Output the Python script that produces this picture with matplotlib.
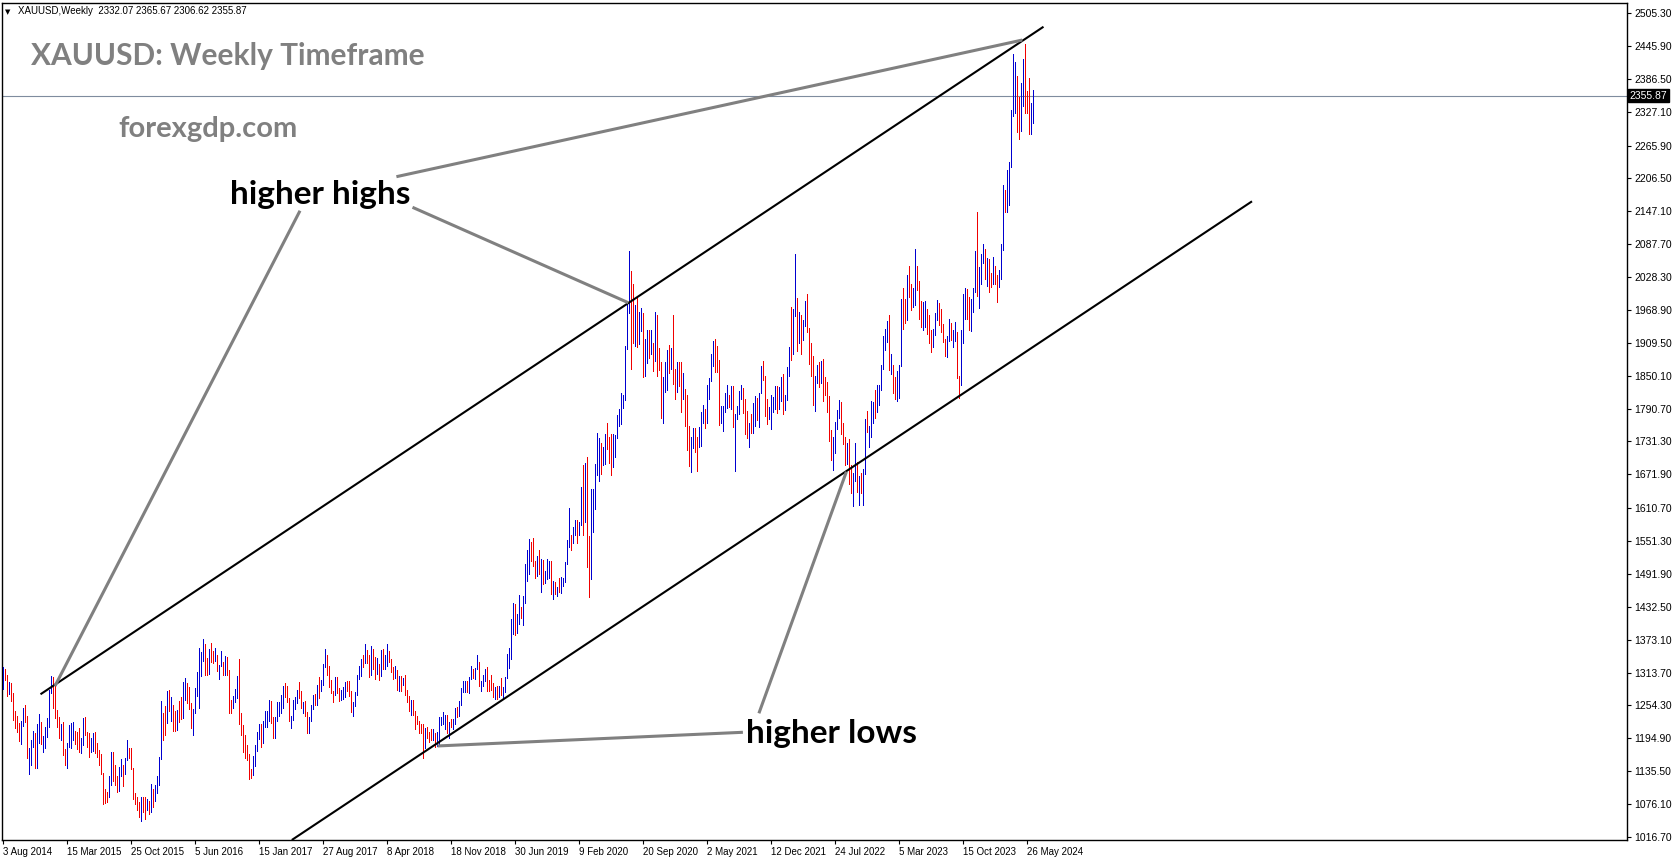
import matplotlib
matplotlib.use("Agg")
import matplotlib.pyplot as plt
import numpy as np

# ---------------- data (weekly XAUUSD, week 0 = 3 Aug 2014) ----------------
first_open = 1294
closes = [
    # 2014
    1309,1305,1280,1287,1268,1231,1216,1214,1192,1222,1238,1231,1171,1177,1188,1197,1175,1191,1222,1195,1195,1212,
    # 2015
    1217,1277,1293,1279,1234,1228,1204,1213,1166,1153,1182,1200,1201,1207,1204,1178,1176,1189,1225,1205,1190,1170,1181,1201,1173,1168,
    1162,1131,1097,1095,1094,1113,1160,1134,1121,1104,1138,1146,1137,1156,1177,1163,1142,1088,1081,1076,1057,1085,1075,1065,1076,1061,
    # 2016
    1104,1090,1096,1117,1158,1239,1230,1222,1259,1250,1255,1221,1220,1240,1234,1232,1290,1290,1273,1252,1214,1242,1275,1298,1321,1340,
    1366,1327,1322,1351,1336,1335,1341,1321,1326,1328,1310,1337,1316,1257,1252,1267,1276,1304,1225,1208,1178,1177,1161,1134,1132,1151,
    # 2017
    1173,1197,1205,1190,1220,1234,1238,1257,1226,1201,1229,1243,1249,1254,1287,1284,1268,1228,1228,1254,1267,1280,1271,1254,1256,1242,
    1212,1228,1254,1269,1257,1289,1285,1292,1324,1346,1319,1297,1280,1275,1304,1280,1266,1269,1275,1294,1288,1280,1248,1256,1275,1303,
    # 2018
    1320,1338,1332,1350,1333,1315,1347,1330,1322,1323,1313,1347,1323,1332,1345,1336,1323,1314,1318,1292,1301,1294,1298,1278,1269,1252,
    1255,1241,1231,1223,1214,1212,1184,1206,1201,1196,1193,1199,1191,1203,1219,1227,1233,1233,1209,1223,1222,1222,1248,1238,1257,1281,
    # 2019
    1286,1289,1282,1304,1318,1316,1322,1328,1294,1298,1302,1313,1292,1291,1290,1276,1286,1280,1285,1277,1284,1305,1341,1341,1400,1409,
    1400,1416,1426,1419,1440,1497,1513,1527,1520,1507,1488,1517,1497,1504,1488,1490,1504,1509,1458,1468,1462,1464,1460,1476,1478,1510,
    # 2020
    1552,1562,1557,1571,1589,1570,1584,1643,1585,1674,1530,1498,1618,1620,1683,1683,1727,1700,1703,1742,1734,1730,1685,1730,1743,1771,
    1775,1799,1810,1902,1975,2035,1945,1940,1964,1934,1940,1950,1861,1900,1930,1899,1902,1879,1951,1889,1871,1788,1839,1839,1881,1877,1898,
    # 2021
    1850,1828,1855,1847,1813,1823,1783,1733,1700,1719,1745,1732,1728,1744,1777,1777,1768,1831,1844,1881,1905,1892,1877,1764,1781,1787,
    1808,1815,1802,1814,1763,1780,1781,1818,1827,1787,1754,1750,1761,1757,1767,1792,1783,1818,1864,1845,1788,1783,1783,1798,1809,1829,
    # 2022
    1797,1818,1836,1792,1808,1860,1899,1890,1966,1989,1921,1958,1925,1946,1975,1932,1897,1883,1811,1846,1853,1850,1870,1840,1827,1812,
    1742,1707,1727,1765,1775,1802,1747,1738,1712,1716,1675,1644,1660,1695,1644,1657,1644,1681,1769,1751,1755,1797,1797,1793,1798,1824,
    # 2023
    1865,1920,1926,1928,1865,1865,1842,1811,1856,1868,1989,1978,1969,2007,2003,1983,1990,2017,2011,1978,1946,1948,1961,1958,1921,1919,
    1925,1955,1961,1959,1943,1914,1889,1915,1940,1919,1924,1925,1848,1833,1932,1981,2006,1993,1940,1981,2002,2072,2004,2019,2053,2062,
    # 2024
    2045,2049,2029,2018,2039,2024,2013,2035,2083,2179,2156,2166,2229,2329,2344,2392,2337,2301,2360,2414,2334,2326,2293,2332.07,2355.87,
]
highs = [
    1324,1320,1310,1296,1295,1276,1244,1236,1222,1227,1250,1255,1235,1177,1191,1208,1204,1221,1238,1225,1199,1215,
    1232,1282,1307,1305,1290,1246,1233,1220,1224,1176,1187,1219,1223,1224,1209,1206,1214,1195,1232,1234,1207,1205,1196,1205,1206,1187,
    1174,1166,1132,1104,1098,1126,1170,1170,1147,1126,1143,1157,1145,1160,1191,1177,1178,1142,1096,1088,1080,1088,1088,1089,1086,1082,
    1113,1098,1111,1127,1161,1263,1240,1253,1280,1283,1269,1253,1244,1246,1262,1270,1297,1304,1294,1287,1258,1247,1285,1315,1358,1350,
    1375,1360,1340,1357,1367,1353,1358,1346,1327,1352,1333,1344,1342,1318,1264,1272,1284,1308,1338,1240,1219,1200,1182,1166,1140,1163,
    1183,1207,1220,1220,1226,1245,1245,1264,1263,1233,1234,1261,1261,1273,1289,1295,1289,1266,1236,1264,1269,1282,1296,1280,1260,1263,
    1243,1233,1256,1273,1275,1292,1306,1300,1330,1357,1337,1325,1301,1281,1306,1306,1286,1283,1288,1296,1298,1299,1280,1260,1279,1309,
    1326,1338,1345,1366,1355,1346,1362,1356,1341,1340,1329,1354,1356,1346,1365,1353,1338,1320,1325,1318,1307,1307,1303,1310,1282,1272,
    1265,1265,1245,1236,1227,1220,1220,1214,1215,1207,1212,1211,1204,1207,1233,1233,1243,1237,1237,1225,1230,1230,1250,1252,1262,1285,
    1298,1298,1299,1305,1326,1320,1322,1346,1332,1299,1310,1320,1324,1300,1310,1295,1288,1289,1290,1303,1287,1306,1348,1358,1411,1439,
    1437,1419,1453,1433,1452,1510,1535,1555,1550,1557,1515,1525,1535,1519,1517,1498,1518,1516,1515,1479,1478,1469,1484,1487,1485,1514,
    1553,1611,1563,1576,1589,1590,1585,1649,1689,1692,1703,1560,1645,1645,1690,1747,1738,1729,1722,1745,1765,1740,1745,1745,1740,1779,
    1789,1818,1815,1904,1984,2075,2040,2015,1977,1992,1966,1973,1963,1917,1933,1933,1932,1910,1965,1959,1900,1875,1848,1875,1897,1906,1900,
    1960,1863,1875,1875,1875,1855,1826,1816,1760,1740,1755,1755,1740,1758,1785,1797,1790,1834,1845,1890,1913,1916,1903,1878,1795,1795,
    1818,1834,1815,1832,1832,1780,1795,1823,1834,1809,1808,1787,1765,1781,1801,1814,1810,1818,1868,1877,1850,1808,1793,1815,1812,1831,
    1831,1830,1848,1853,1815,1865,1902,1975,1970,2070,1990,1966,1960,1950,1985,1998,1936,1910,1885,1850,1870,1874,1877,1880,1848,1839,
    1814,1752,1739,1767,1788,1807,1802,1765,1740,1729,1735,1688,1675,1729,1686,1669,1675,1682,1772,1786,1760,1804,1802,1824,1833,1833,
    1870,1922,1935,1949,1960,1890,1870,1847,1858,1870,1989,2009,1988,2032,2048,2015,2009,2079,2048,2022,1985,1983,1985,1971,1959,1933,
    1935,1963,1987,1982,1970,1932,1917,1922,1953,1945,1932,1947,1929,1850,1932,1997,2009,2004,1974,1988,2008,2076,2146,2047,2070,2088,
    2079,2062,2061,2036,2065,2048,2032,2041,2088,2195,2185,2222,2236,2330,2431,2417,2392,2354,2378,2422,2450,2364,2387,2342,2365.67,
]
lows = [
    1284,1301,1272,1275,1262,1228,1214,1206,1190,1184,1217,1224,1160,1131,1146,1180,1142,1142,1186,1185,1170,1178,
    1198,1216,1276,1250,1232,1216,1196,1192,1164,1147,1142,1180,1178,1192,1184,1175,1170,1168,1182,1200,1180,1162,1170,1172,1168,1162,
    1146,1130,1077,1078,1080,1088,1111,1118,1111,1098,1100,1126,1108,1131,1155,1160,1140,1085,1077,1065,1052,1046,1061,1049,1068,1058,
    1061,1071,1081,1096,1111,1157,1191,1201,1225,1245,1227,1208,1208,1210,1224,1230,1233,1265,1259,1248,1216,1200,1240,1271,1250,1307,
    1335,1310,1310,1312,1333,1331,1334,1316,1302,1326,1309,1310,1310,1241,1241,1250,1260,1268,1220,1200,1171,1159,1156,1122,1124,1128,
    1145,1172,1194,1180,1187,1216,1216,1226,1223,1195,1196,1226,1235,1240,1250,1270,1260,1226,1214,1228,1247,1258,1268,1250,1241,1236,
    1205,1204,1227,1247,1256,1256,1267,1281,1291,1323,1310,1288,1277,1260,1274,1276,1263,1264,1266,1269,1280,1271,1243,1236,1253,1273,
    1302,1307,1323,1331,1331,1306,1310,1320,1302,1311,1301,1307,1321,1321,1325,1332,1315,1302,1303,1282,1281,1281,1291,1273,1261,1245,
    1237,1237,1211,1221,1204,1205,1160,1178,1196,1189,1191,1192,1180,1181,1183,1219,1220,1211,1205,1196,1215,1212,1221,1234,1236,1256,
    1278,1279,1279,1276,1302,1303,1302,1320,1290,1281,1289,1298,1280,1281,1282,1270,1266,1266,1269,1274,1266,1279,1304,1322,1338,1384,
    1381,1385,1402,1412,1400,1440,1480,1492,1515,1506,1484,1488,1491,1459,1474,1476,1483,1485,1456,1446,1455,1452,1459,1458,1471,1477,
    1510,1540,1535,1547,1563,1547,1563,1580,1563,1585,1504,1451,1482,1568,1610,1670,1660,1673,1688,1691,1718,1693,1670,1690,1704,1737,
    1760,1763,1792,1807,1898,1963,1863,1910,1903,1902,1907,1930,1848,1850,1873,1882,1890,1859,1876,1850,1860,1774,1764,1820,1824,1855,1863,
    1835,1808,1820,1831,1785,1808,1760,1716,1687,1676,1719,1712,1678,1721,1723,1764,1756,1765,1808,1841,1868,1856,1856,1761,1770,1750,
    1785,1791,1794,1790,1758,1677,1771,1780,1808,1782,1745,1737,1721,1746,1746,1760,1770,1758,1818,1842,1778,1762,1772,1753,1785,1789,
    1782,1790,1804,1780,1788,1807,1849,1878,1889,1958,1895,1910,1890,1915,1940,1929,1872,1850,1798,1787,1837,1829,1837,1805,1816,1784,
    1732,1697,1680,1711,1754,1773,1745,1727,1688,1691,1654,1639,1614,1660,1640,1617,1638,1616,1673,1748,1721,1739,1765,1774,1784,1798,
    1824,1862,1896,1911,1861,1853,1819,1808,1804,1809,1867,1934,1945,1950,1992,1969,1975,1977,2005,1952,1938,1932,1938,1925,1910,1893,
    1902,1923,1951,1942,1929,1911,1885,1884,1913,1915,1901,1913,1846,1810,1834,1909,1953,1953,1932,1931,1965,2002,1994,1973,2016,2054,
    2024,2013,2001,2010,2016,2015,1984,2010,2024,2078,2146,2146,2159,2228,2319,2324,2291,2277,2292,2338,2325,2324,2286,2286,2306.62,
]

date_tick_weeks = [0, 32, 64, 96, 128, 160, 192, 224, 256, 288, 320, 352, 384, 416, 448, 480, 512]
date_tick_labels = ["3 Aug 2014", "15 Mar 2015", "25 Oct 2015", "5 Jun 2016", "15 Jan 2017",
                    "27 Aug 2017", "8 Apr 2018", "18 Nov 2018", "30 Jun 2019", "9 Feb 2020",
                    "20 Sep 2020", "2 May 2021", "12 Dec 2021", "24 Jul 2022", "5 Mar 2023",
                    "15 Oct 2023", "26 May 2024"]
price_ticks = [2505.30, 2445.90, 2386.50, 2327.10, 2265.90, 2206.50, 2147.10, 2087.70, 2028.30,
               1968.90, 1909.50, 1850.10, 1790.70, 1731.30, 1671.90, 1610.70, 1551.30, 1491.90,
               1432.50, 1373.10, 1313.70, 1254.30, 1194.90, 1135.50, 1076.10, 1016.70]
last_price = 2355.87
header_text = "XAUUSD,Weekly  2332.07 2365.67 2306.62 2355.87"

# trend lines (week index, price)
upper_channel = [(18.75, 1274.5), (520.25, 2480.5)]
lower_channel = [(144.4, 1011.2), (624.5, 2165.1)]
pointer_lines = [
    [(196.7, 2209.6), (509.65, 2456.5)],
    [(204.75, 2154.3), (312.65, 1981.9)],
    [(148.5, 2148.1), (26.0, 1289.5)],
    [(369.95, 1205.8), (217.25, 1181.1)],
    [(377.95, 1240.1), (421.7, 1676.6)],
]

# ---------------- figure ----------------
W, H = 1673, 861
fig = plt.figure(figsize=(W / 100, H / 100), dpi=100)
fig.patch.set_facecolor("white")
ax = fig.add_axes([2 / W, 21 / H, 1625 / W, 837 / H])
ax.set_xlim(-0.5, 812)
ax.set_ylim(1011.2, 2523.4)

weeks = np.arange(len(closes))
opens = np.array([first_open] + closes[:-1], dtype=float)
c = np.array(closes, dtype=float)
hi = np.maximum(np.array(highs, dtype=float), np.maximum(opens, c))
lo = np.minimum(np.array(lows, dtype=float), np.minimum(opens, c))
cols = np.where(c >= opens, "#0000D0", "#F00000")
ax.vlines(weeks, lo, hi, colors=cols, linewidth=0.5, antialiased=False, zorder=3)

# current price line
ax.axhline(last_price, color="#7F8C9E", linewidth=0.8, zorder=1)

# channel lines
for seg in (upper_channel, lower_channel):
    (x0, y0), (x1, y1) = seg
    ax.plot([x0, x1], [y0, y1], color="black", linewidth=1.5, solid_capstyle="butt", zorder=4)
for seg in pointer_lines:
    (x0, y0), (x1, y1) = seg
    ax.plot([x0, x1], [y0, y1], color="#808080", linewidth=2.2, solid_capstyle="butt", zorder=5)

# axes styling
for sp in ax.spines.values():
    sp.set_color("black")
    sp.set_linewidth(1.0)
ax.yaxis.tick_right()
ax.set_yticks(price_ticks)
ax.set_yticklabels([f"{p:.2f}" for p in price_ticks], fontsize=7.5, family="Liberation Sans")
ax.tick_params(axis="y", direction="out", length=3, width=0.8, pad=2, colors="black")
ax.set_xticks(date_tick_weeks)
ax.set_xticklabels(date_tick_labels, fontsize=7, family="Liberation Sans", ha="left")
ax.tick_params(axis="x", direction="out", length=3, width=0.8, pad=2, colors="black")

# price tag on the right axis
ax.text(1.0015, last_price, f"{last_price:.2f}", transform=ax.get_yaxis_transform(),
        ha="left", va="center", fontsize=7.5, family="Liberation Sans", color="white",
        bbox=dict(boxstyle="square,pad=0.15", fc="black", ec="black"), zorder=10, clip_on=False)

def ftext(x, y, s, **kw):
    fig.text(x / W, 1 - y / H, s, **kw)

ftext(5, 14, "\u25BC", fontsize=5, color="black", family="DejaVu Sans")
ftext(18, 14, header_text, fontsize=7, color="black", family="Liberation Sans")
ftext(31, 65, "XAUUSD: Weekly Timeframe", fontsize=21.5, fontweight="bold", color="#808080", family="Lato")
ftext(118, 137, "forexgdp.com", fontsize=21, fontweight="bold", color="#808080", family="Lato")
ftext(230, 204, "higher highs", fontsize=24, fontweight="bold", color="black", family="Lato")
ftext(746, 743, "higher lows", fontsize=24, fontweight="bold", color="black", family="Lato")

fig.savefig("out.png", dpi=100)
